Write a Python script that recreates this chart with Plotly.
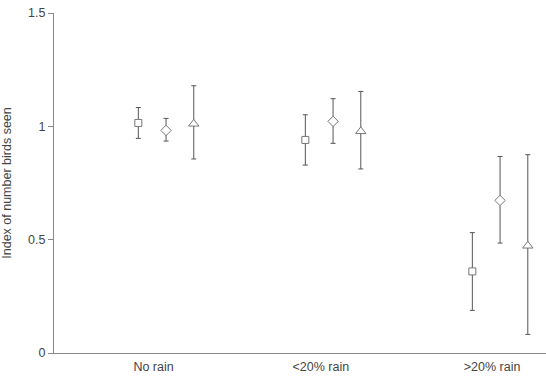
import plotly.graph_objects as go

categories = ["No rain", "<20% rain", ">20% rain"]

square_vals = [1.015, 0.940, 0.360]
square_hi = [1.083, 1.051, 0.531]
square_lo = [0.947, 0.829, 0.188]

diamond_vals = [0.982, 1.022, 0.673]
diamond_hi = [1.035, 1.122, 0.867]
diamond_lo = [0.935, 0.925, 0.485]

triangle_vals = [1.011, 0.978, 0.473]
triangle_hi = [1.179, 1.154, 0.875]
triangle_lo = [0.856, 0.812, 0.082]

y_ticks = [0, 0.5, 1, 1.5]
y_tick_labels = ["0", "0.5", "1", "1.5"]

base = [1, 2, 3]
label_shift = [0.091, 0.093, 0.118]

fig = go.Figure()

series = [
    (square_vals, square_hi, square_lo, 0.0, "square", 7),
    (diamond_vals, diamond_hi, diamond_lo, 0.166, "diamond", 8),
    (triangle_vals, triangle_hi, triangle_lo, 0.332, "triangle-up", 9),
]

for vals, hi, lo, off, sym, size in series:
    fig.add_trace(go.Scatter(
        x=[b + off for b in base],
        y=vals,
        mode="markers",
        marker=dict(symbol=sym, size=size, color="white",
                    line=dict(color="#777777", width=1)),
        error_y=dict(type="data", symmetric=False,
                     array=[h - v for h, v in zip(hi, vals)],
                     arrayminus=[v - l for v, l in zip(vals, lo)],
                     color="#555555", thickness=1, width=2.5),
        showlegend=False,
        cliponaxis=False,
    ))

fig.update_layout(
    width=546, height=378,
    margin=dict(l=54, r=0, t=13, b=25),
    plot_bgcolor="white", paper_bgcolor="white",
    font=dict(family="Liberation Sans, Arial, sans-serif", size=12, color="#444444"),
    xaxis=dict(
        range=[0.495, 3.441],
        tickvals=[b + s for b, s in zip(base, label_shift)],
        ticktext=categories,
        showgrid=False, zeroline=False,
        showline=True, linecolor="#888888", linewidth=1,
        ticks="outside", ticklen=2, tickcolor="rgba(0,0,0,0)",
        tickfont=dict(size=12.5),
        automargin=False,
        ticklabeloverflow="allow",
    ),
    yaxis=dict(
        range=[0, 1.5],
        tickvals=y_ticks, ticktext=y_tick_labels,
        showgrid=False, zeroline=False,
        showline=True, linecolor="#888888", linewidth=1,
        ticks="outside", ticklen=5, tickcolor="#888888",
        tickfont=dict(size=12.5),
        title=dict(text="Index of number birds seen", font=dict(size=12.5), standoff=22),
        automargin=False,
        ticklabeloverflow="allow",
    ),
)

fig.write_html("out.html", config={"displayModeBar": False},
               post_script="document.body.style.margin='0px';")
